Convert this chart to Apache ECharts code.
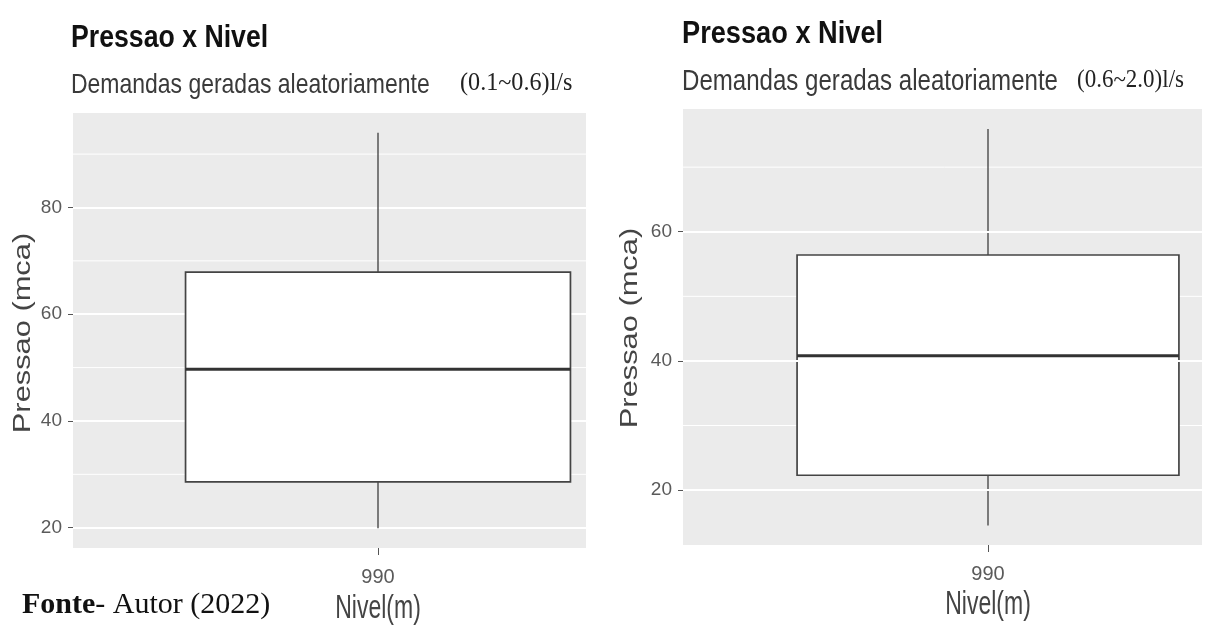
<!DOCTYPE html>
<html>
<head>
<meta charset="utf-8">
<script src="https://cdn.jsdelivr.net/npm/echarts@6/dist/echarts.min.js"></script>
<style>
  html, body { margin: 0; padding: 0; background: #ffffff; }
  #chart { width: 1205px; height: 630px; }
</style>
</head>
<body>
<div id="chart"></div>
<script>
// ---- data ----
const categories = ['990'];
const titles = ['Pressao x Nivel', 'Pressao x Nivel'];
const subtitles = ['Demandas geradas aleatoriamente', 'Demandas geradas aleatoriamente'];
const flowRanges = ['(0.1~0.6)l/s', '(0.6~2.0)l/s'];
const yAxisTitle = 'Pressao (mca)';
const xAxisTitle = 'Nivel(m)';
const sourceLabel = 'Fonte';
const sourceText = '- Autor (2022)';

// five-number summaries: min, Q1, median, Q3, max
const lowDemandStats = [19.9, 28.6, 49.7, 67.9, 94.0];
const highDemandStats = [14.5, 22.3, 40.8, 56.4, 75.9];

const lowMajorTicks = [20, 40, 60, 80];
const lowMinorTicks = [30, 50, 70, 90];
const highMajorTicks = [20, 40, 60];
const highMinorTicks = [30, 50, 70];
const lowRange = [16.2, 97.7];
const highRange = [11.5, 79.0];

// ---- layout ----
const panels = [
  { left: 73, top: 113, width: 610, height: 435, boxFrac: 0.631,
    stats: lowDemandStats, major: lowMajorTicks, minor: lowMinorTicks, range: lowRange },
  { left: 683, top: 109, width: 610, height: 436, boxFrac: 0.626,
    stats: highDemandStats, major: highMajorTicks, minor: highMinorTicks, range: highRange }
];

const SANS = 'Liberation Sans, Arial, sans-serif';
const SERIF = 'Liberation Serif, Times New Roman, serif';
const TICK_COLOR = '#5a5a5a';

// minor grid lines first, then whiskers, box and median
function makeBoxRenderer(frac, minorValues) {
  return function (params, api) {
    const cs = params.coordSys;
    const x = api.value(0);
    const children = minorValues.map(function (v) {
      const py = api.coord([x, v])[1];
      return { type: 'line', shape: { x1: cs.x, y1: py, x2: cs.x + cs.width, y2: py },
               style: { stroke: '#ffffff', lineWidth: 1 } };
    });
    const pMin = api.coord([x, api.value(1)]);
    const pQ1 = api.coord([x, api.value(2)]);
    const pMed = api.coord([x, api.value(3)]);
    const pQ3 = api.coord([x, api.value(4)]);
    const pMax = api.coord([x, api.value(5)]);
    const cx = pMed[0];
    const half = api.size([1, 0])[0] * frac / 2;
    children.push(
      { type: 'line', shape: { x1: cx, y1: pQ3[1], x2: cx, y2: pMax[1] },
        style: { stroke: '#4a4a4a', lineWidth: 1.4 } },
      { type: 'line', shape: { x1: cx, y1: pQ1[1], x2: cx, y2: pMin[1] },
        style: { stroke: '#4a4a4a', lineWidth: 1.4 } },
      { type: 'rect', shape: { x: cx - half, y: pQ3[1], width: 2 * half, height: pQ1[1] - pQ3[1] },
        style: { fill: '#ffffff', stroke: '#444444', lineWidth: 1.7 } },
      { type: 'line', shape: { x1: cx - half, y1: pMed[1], x2: cx + half, y2: pMed[1] },
        style: { stroke: '#333333', lineWidth: 3 } }
    );
    return { type: 'group', children: children };
  };
}

const grid = [], xAxis = [], yAxis = [], series = [];
panels.forEach(function (p, i) {
  grid.push({
    left: p.left, top: p.top, width: p.width, height: p.height,
    outerBoundsMode: 'none',
    show: true, backgroundColor: '#ebebeb', borderWidth: 0
  });
  xAxis.push({
    type: 'category', gridIndex: i, data: categories, boundaryGap: true,
    axisLine: { show: false },
    axisTick: { show: true, alignWithLabel: true, length: 7, lineStyle: { color: '#555', width: 1 } },
    axisLabel: { fontSize: 20, color: TICK_COLOR, margin: 19, fontFamily: SANS },
    splitLine: { show: false }
  });
  yAxis.push({
    type: 'value', gridIndex: i, min: p.range[0], max: p.range[1], z: i === 1 ? 3 : 0,
    axisLine: { show: false },
    axisTick: { show: true, length: 5, customValues: p.major, lineStyle: { color: '#555', width: 1 } },
    axisLabel: { customValues: p.major, fontSize: 19, color: TICK_COLOR, margin: 11, fontFamily: SANS },
    splitLine: { show: true, lineStyle: { color: '#ffffff', width: 2 } },
    minorTick: { show: false },
    minorSplitLine: { show: false }
  });
  series.push({
    type: 'custom', xAxisIndex: i, yAxisIndex: i, silent: true, z: 2,
    data: [[0].concat(p.stats)],
    encode: { x: 0, y: [1, 2, 3, 4, 5] },
    renderItem: makeBoxRenderer(p.boxFrac, p.minor)
  });
});

function label(text, x, y, size, opts) {
  opts = opts || {};
  return {
    type: 'text', x: x, y: y, z: 10,
    rotation: opts.rotation || 0,
    scaleX: opts.scaleX || 1, scaleY: opts.scaleY || 1,
    style: {
      text: text, fontSize: size, fontFamily: opts.family || SANS,
      fontWeight: opts.weight || 'normal',
      fill: opts.color || '#222', align: opts.align || 'left', verticalAlign: 'middle'
    }
  };
}

const graphic = [
  // the left panel is trimmed where the right figure begins
  { type: 'rect', z: 2.5, shape: { x: 586, y: 100, width: 97, height: 470 }, style: { fill: '#ffffff' } },
  { type: 'rect', z: 2.5, shape: { x: 1202, y: 100, width: 20, height: 470 }, style: { fill: '#ffffff' } },

  label(titles[0], 71, 38, 31, { scaleX: 0.86, weight: 'bold', color: '#111' }),
  label(subtitles[0], 71, 85, 28, { scaleX: 0.82, color: '#3a3a3a' }),
  label(flowRanges[0], 460, 83, 26, { scaleX: 0.93, family: SERIF, color: '#222' }),
  label(titles[1], 682, 34, 32, { scaleX: 0.85, weight: 'bold', color: '#111' }),
  label(subtitles[1], 682, 82, 29, { scaleX: 0.83, color: '#3a3a3a' }),
  label(flowRanges[1], 1077, 80, 25, { scaleX: 0.92, family: SERIF, color: '#222' }),

  label(yAxisTitle, 24, 333, 23, { rotation: Math.PI / 2, scaleX: 1.34, align: 'center', color: '#444' }),
  label(yAxisTitle, 631, 328, 23, { rotation: Math.PI / 2, scaleX: 1.34, align: 'center', color: '#444' }),
  label(xAxisTitle, 378, 609, 23, { scaleY: 1.45, align: 'center', color: '#444' }),
  label(xAxisTitle, 988, 605, 23, { scaleY: 1.45, align: 'center', color: '#444' }),

  {
    type: 'text', x: 22, y: 605, z: 10,
    style: {
      text: '{b|' + sourceLabel + '}{r|' + sourceText + '}',
      verticalAlign: 'middle', align: 'left',
      rich: {
        b: { fontFamily: SERIF, fontWeight: 'bold', fontSize: 30, fill: '#111' },
        r: { fontFamily: SERIF, fontSize: 30, fill: '#111' }
      }
    }
  }
];

const chart = echarts.init(document.getElementById('chart'), null, { renderer: 'canvas' });
chart.setOption({
  animation: false,
  backgroundColor: '#ffffff',
  grid: grid,
  xAxis: xAxis,
  yAxis: yAxis,
  series: series,
  graphic: graphic
});
</script>
</body>
</html>
